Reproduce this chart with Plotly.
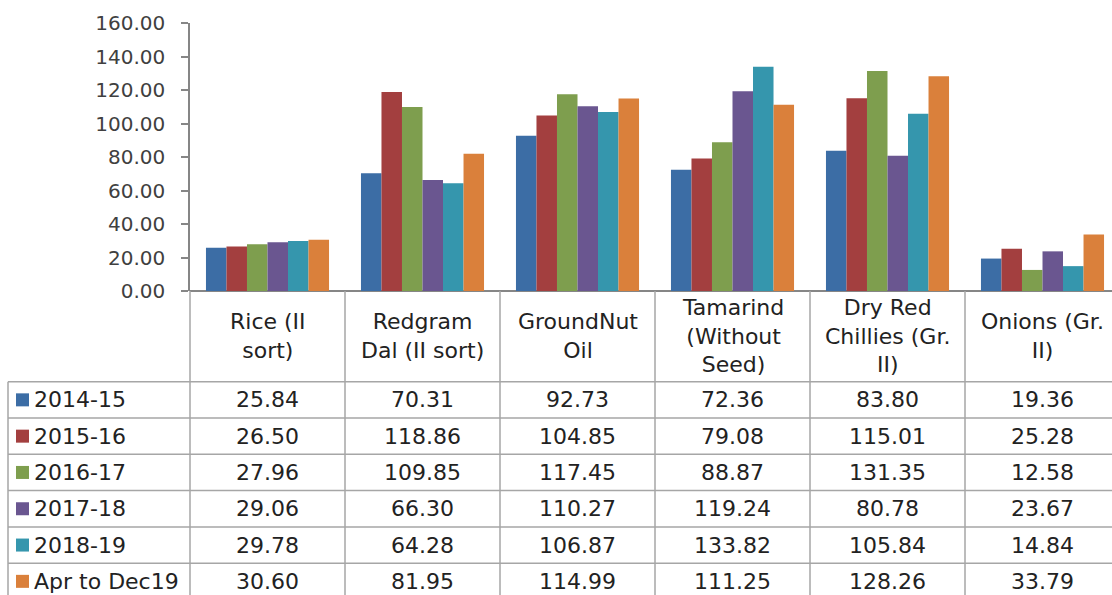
import plotly.graph_objects as go

# ---- data -------------------------------------------------------------
categories = [
    "Rice (II<br>sort)",
    "Redgram<br>Dal (II sort)",
    "GroundNut<br>Oil",
    "Tamarind<br>(Without<br>Seed)",
    "Dry Red<br>Chillies (Gr.<br>II)",
    "Onions (Gr.<br>II)",
]
series_names = ["2014-15", "2015-16", "2016-17", "2017-18", "2018-19", "Apr to Dec19"]

v_2014_15 = [25.84, 70.31, 92.73, 72.36, 83.80, 19.36]
v_2015_16 = [26.50, 118.86, 104.85, 79.08, 115.01, 25.28]
v_2016_17 = [27.96, 109.85, 117.45, 88.87, 131.35, 12.58]
v_2017_18 = [29.06, 66.30, 110.27, 119.24, 80.78, 23.67]
v_2018_19 = [29.78, 64.28, 106.87, 133.82, 105.84, 14.84]
v_apr_dec19 = [30.60, 81.95, 114.99, 111.25, 128.26, 33.79]

series_values = [v_2014_15, v_2015_16, v_2016_17, v_2017_18, v_2018_19, v_apr_dec19]
colors = ["#3C6DA5", "#A33F3F", "#7E9E4E", "#6A5690", "#3596AD", "#DA803B"]

y_ticks = [0, 20, 40, 60, 80, 100, 120, 140, 160]

# ---- geometry (pixels) -------------------------------------------------
W, H = 1112, 595
ML, MT = 190, 23
PLOT_W, PLOT_H = W - ML, H - MT
AXIS_BOTTOM = 291          # pixel row of the value axis baseline
CAT_W = 155                # pixel width of one category band
TABLE_LEFT = 8
HEADER_BOTTOM = 381.7
ROW_H = 36.3

x_min = -0.5
x_max = x_min + PLOT_W / CAT_W


def px_x(px):
    return (px - ML) / PLOT_W


def px_y(py):
    return (H - py) / PLOT_H


def cat_x(v):
    # category-axis value -> paper x
    return (v - x_min) / (x_max - x_min)


FONT = "DejaVu Sans"
TXT = 22
GRID = "#A6A6A6"
AXIS = "#868686"
INK = "#222222"

fig = go.Figure()
cat_idx = list(range(len(categories)))
for name, vals, col in zip(series_names, series_values, colors):
    fig.add_trace(go.Bar(x=cat_idx, y=vals, name=name, marker_color=col,
                         marker_line_width=0, showlegend=False))

shapes = []
annotations = []

# column separators (also act as category tick marks)
for k in range(len(categories) + 1):
    xp = cat_x(k - 0.5)
    if xp <= 1.0:
        shapes.append(dict(type="line", xref="paper", yref="paper",
                           x0=xp, x1=xp, y0=px_y(AXIS_BOTTOM), y1=px_y(H + 5),
                           line=dict(color=GRID, width=1.5)))

# left border of the data rows
shapes.append(dict(type="line", xref="paper", yref="paper",
                   x0=px_x(TABLE_LEFT), x1=px_x(TABLE_LEFT),
                   y0=px_y(HEADER_BOTTOM), y1=px_y(H + 5),
                   line=dict(color=GRID, width=1.5)))

# horizontal row lines
for r in range(len(series_names)):
    yl = px_y(HEADER_BOTTOM + r * ROW_H)
    shapes.append(dict(type="line", xref="paper", yref="paper",
                       x0=px_x(TABLE_LEFT), x1=1.0, y0=yl, y1=yl,
                       line=dict(color=GRID, width=1.5)))

# header cells
header_mid = (AXIS_BOTTOM + HEADER_BOTTOM) / 2
for i, cat in enumerate(categories):
    annotations.append(dict(x=cat_x(i), y=px_y(header_mid), xref="paper", yref="paper",
                            text=cat, showarrow=False, xanchor="center", yanchor="middle",
                            align="center",
                            font=dict(family=FONT, size=TXT, color=INK)))

# data rows with legend keys
for r, (name, vals, col) in enumerate(zip(series_names, series_values, colors)):
    mid = HEADER_BOTTOM + (r + 0.5) * ROW_H
    shapes.append(dict(type="rect", xref="paper", yref="paper",
                       x0=px_x(16), x1=px_x(29), y0=px_y(mid + 6.5), y1=px_y(mid - 6.5),
                       fillcolor=col, line=dict(width=0)))
    annotations.append(dict(x=px_x(32), y=px_y(mid), xref="paper", yref="paper",
                            text=name, showarrow=False, xanchor="left", yanchor="middle",
                            font=dict(family=FONT, size=TXT, color=INK)))
    for i, v in enumerate(vals):
        annotations.append(dict(x=cat_x(i), y=px_y(mid), xref="paper", yref="paper",
                                text=f"{v:.2f}", showarrow=False,
                                xanchor="center", yanchor="middle",
                                font=dict(family=FONT, size=TXT, color=INK)))

fig.update_layout(
    width=W, height=H,
    margin=dict(l=ML, r=0, t=MT, b=0, autoexpand=False),
    paper_bgcolor="white", plot_bgcolor="white",
    barmode="group", bargap=0.206, bargroupgap=0,
    shapes=shapes, annotations=annotations,
    xaxis=dict(range=[x_min, x_max], showticklabels=False, ticks="", automargin=False,
               showgrid=False, zeroline=False, showline=False, fixedrange=True),
    yaxis=dict(range=[0, 160], domain=[px_y(AXIS_BOTTOM), 1.0], automargin=False,
               tickvals=y_ticks, tickformat=".2f", ticks="outside", ticklen=7,
               tickcolor=AXIS, tickwidth=1.5, showline=True, linecolor=AXIS,
               linewidth=1.5, showgrid=False, zeroline=True, zerolinecolor=AXIS,
               zerolinewidth=1.5, ticklabelstandoff=12,
               tickfont=dict(family=FONT, size=20, color="#404040")),
)

fig.write_html("out.html")
